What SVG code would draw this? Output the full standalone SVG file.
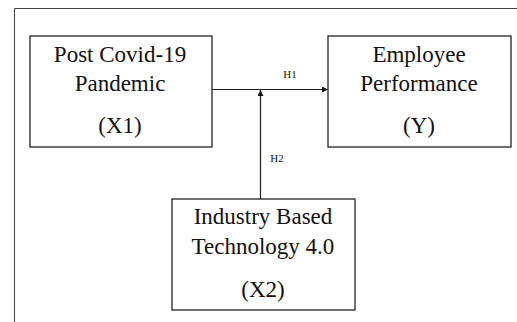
<svg xmlns="http://www.w3.org/2000/svg" width="517" height="322" viewBox="0 0 517 322">
<style>
.box{fill:#fff;stroke:#222;stroke-width:1.3}
.t{font-family:"Liberation Serif","Times New Roman",serif;font-size:23px;fill:#111;text-anchor:middle}
.s{font-family:"Liberation Serif","Times New Roman",serif;font-size:11px;fill:#111;text-anchor:middle}
.ln{stroke:#222;stroke-width:1.2;fill:none}
</style>
<defs>
<marker id="ah" markerWidth="6" markerHeight="6" refX="6" refY="3" orient="auto" markerUnits="userSpaceOnUse">
<path d="M0,0 L6,3 L0,6 Z" fill="#111"/>
</marker>
</defs>
<rect width="517" height="322" fill="#fff"/>
<path d="M14.5,322 V8.5 H517" fill="none" stroke="#444" stroke-width="1"/>
<g id="connectors">
<line class="ln" x1="212" y1="89.5" x2="328" y2="89.5" marker-end="url(#ah)"/>
<line class="ln" x1="260.5" y1="199" x2="260.5" y2="90" marker-end="url(#ah)"/>
<text class="s" x="290" y="78">H1</text>
<text class="s" x="277" y="162">H2</text>
</g>
<g id="x1">
<rect class="box" x="30" y="36" width="182" height="111"/>
<text class="t" x="120" y="62">Post Covid-19</text>
<text class="t" x="120" y="91">Pandemic</text>
<text class="t" x="120" y="133">(X1)</text>
</g>
<g id="y">
<rect class="box" x="328" y="36" width="183" height="111"/>
<text class="t" x="419" y="62">Employee</text>
<text class="t" x="419" y="91">Performance</text>
<text class="t" x="419" y="133">(Y)</text>
</g>
<g id="x2">
<rect class="box" x="172" y="199" width="183" height="111"/>
<text class="t" x="263" y="224">Industry Based</text>
<text class="t" x="263" y="254">Technology 4.0</text>
<text class="t" x="263" y="297">(X2)</text>
</g>
</svg>
